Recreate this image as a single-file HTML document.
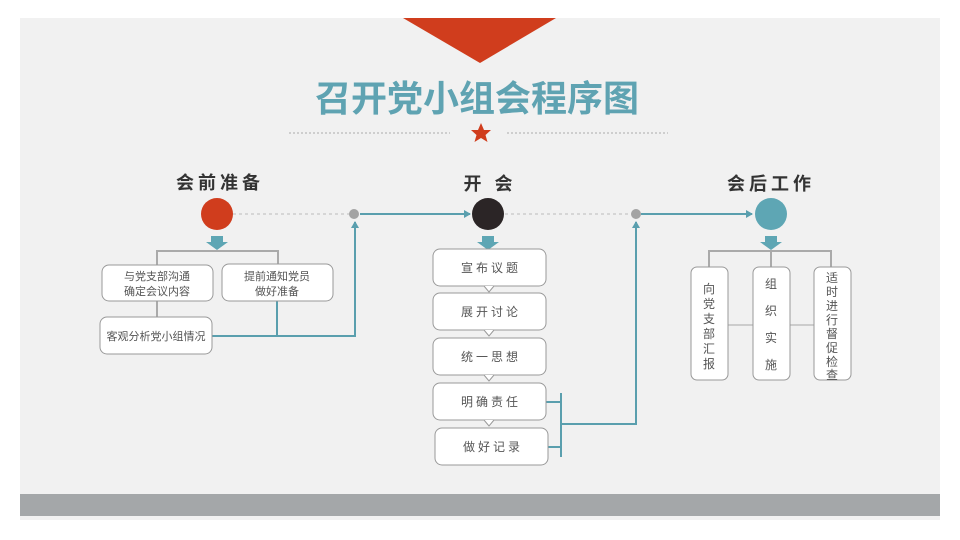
<!DOCTYPE html>
<html><head><meta charset="utf-8"><style>
body{margin:0;width:960px;height:540px;background:#fff;overflow:hidden}
svg{display:block}
text{font-family:"Liberation Sans","Noto Sans CJK SC",sans-serif}
</style></head><body>
<svg width="960" height="540" viewBox="0 0 960 540">
<defs><marker id="a" markerWidth="8" markerHeight="8" refX="6" refY="4" orient="auto" markerUnits="userSpaceOnUse"><path d="M0,0 L7,4 L0,8 z" fill="#5a9fae"/></marker></defs>
<rect x="20" y="18" width="920" height="502" fill="#f1f1f1"/>
<rect x="20" y="494" width="920" height="22" fill="#a4a7a9"/>
<polygon points="403,18 556,18 480,63" fill="#d03d1d"/>
<text x="477" y="111" font-size="36" font-weight="bold" fill="#5fa3b2" text-anchor="middle">召开党小组会程序图</text>
<line x1="289" y1="133" x2="450" y2="133" stroke="#aaa" stroke-dasharray="2,2"/>
<line x1="507" y1="133" x2="668" y2="133" stroke="#aaa" stroke-dasharray="2,2"/>
<polygon points="481,123 484,130 491,130 485.5,135 487.5,142 481,138 474.5,142 476.5,135 471,130 478,130" fill="#d03d1d"/>
<g font-size="18" font-weight="bold" fill="#333" text-anchor="middle" letter-spacing="4">
<text x="220" y="189">会前准备</text><text x="490" y="190">开 会</text><text x="771" y="190">会后工作</text></g>
<g stroke="#bbb" stroke-dasharray="3,3"><line x1="233" y1="214" x2="354" y2="214"/><line x1="505" y1="214" x2="636" y2="214"/></g>
<circle cx="217" cy="214" r="16" fill="#d03d1d"/>
<circle cx="488" cy="214" r="16" fill="#2b2526"/>
<circle cx="771" cy="214" r="16" fill="#5ea6b4"/>
<circle cx="354" cy="214" r="5" fill="#a3a3a3"/><circle cx="636" cy="214" r="5" fill="#a3a3a3"/>
<g fill="#5ea6b4"><path d="M211,236h12v6h5l-11,8l-11,-8h5z"/><path d="M482,236h12v6h5l-11,8l-11,-8h5z"/><path d="M765,236h12v6h5l-11,8l-11,-8h5z"/></g>
<g stroke="#aaa" stroke-width="2" fill="none">
<path d="M157,265V251H278V265"/><line x1="157" y1="301" x2="157" y2="317"/>
<path d="M709,267V251H831V267"/><line x1="771" y1="251" x2="771" y2="267"/>
</g>
<line x1="728" y1="325" x2="814" y2="325" stroke="#ccc" stroke-width="2"/>
<g stroke="#5a9fae" stroke-width="2" fill="none">
<path d="M212,336H355V222" marker-end="url(#a)"/>
<line x1="277" y1="301" x2="277" y2="336"/>
<line x1="360" y1="214" x2="470" y2="214" marker-end="url(#a)"/>
<path d="M546,402H561M548,447H561M561,393V457M561,424H636V222" marker-end="url(#a)"/>
<line x1="641" y1="214" x2="752" y2="214" marker-end="url(#a)"/>
</g>
<g fill="#fff" stroke="#999" stroke-width="1">
<rect x="102" y="265" width="111" height="36" rx="7"/><rect x="222" y="264" width="111" height="37" rx="7"/>
<rect x="100" y="317" width="112" height="37" rx="7"/>
<rect x="433" y="249" width="113" height="37" rx="7"/><rect x="433" y="293" width="113" height="37" rx="7"/>
<rect x="433" y="338" width="113" height="37" rx="7"/><rect x="433" y="383" width="113" height="37" rx="7"/>
<rect x="435" y="428" width="113" height="37" rx="7"/>
<rect x="691" y="267" width="37" height="113" rx="6"/><rect x="753" y="267" width="37" height="113" rx="6"/><rect x="814" y="267" width="37" height="113" rx="6"/>
</g>
<g fill="#fff" stroke="#999"><path d="M484,286l5,6l5,-6"/><path d="M484,330l5,6l5,-6"/><path d="M484,375l5,6l5,-6"/><path d="M484,420l5,6l5,-6"/></g>
<g font-size="11" fill="#555" text-anchor="middle">
<text x="157" y="280">与党支部沟通</text><text x="157" y="295">确定会议内容</text>
<text x="277" y="280">提前通知党员</text><text x="277" y="295">做好准备</text>
<text x="156" y="340">客观分析党小组情况</text>
</g>
<g font-size="12" fill="#555" text-anchor="middle" letter-spacing="3">
<text x="491" y="272">宣布议题</text><text x="491" y="316">展开讨论</text><text x="491" y="361">统一思想</text>
<text x="491" y="406">明确责任</text><text x="493" y="451">做好记录</text>
</g>
<g font-size="12" fill="#555" text-anchor="middle">
<text x="709" y="293">向</text><text x="709" y="308">党</text><text x="709" y="323">支</text><text x="709" y="338">部</text><text x="709" y="353">汇</text><text x="709" y="368">报</text>
<text x="771" y="288">组</text><text x="771" y="315">织</text><text x="771" y="342">实</text><text x="771" y="369">施</text>
<text x="832" y="282">适</text><text x="832" y="296">时</text><text x="832" y="310">进</text><text x="832" y="324">行</text><text x="832" y="338">督</text><text x="832" y="352">促</text><text x="832" y="366">检</text><text x="832" y="379">查</text>
</g>
</svg>
</body></html>
